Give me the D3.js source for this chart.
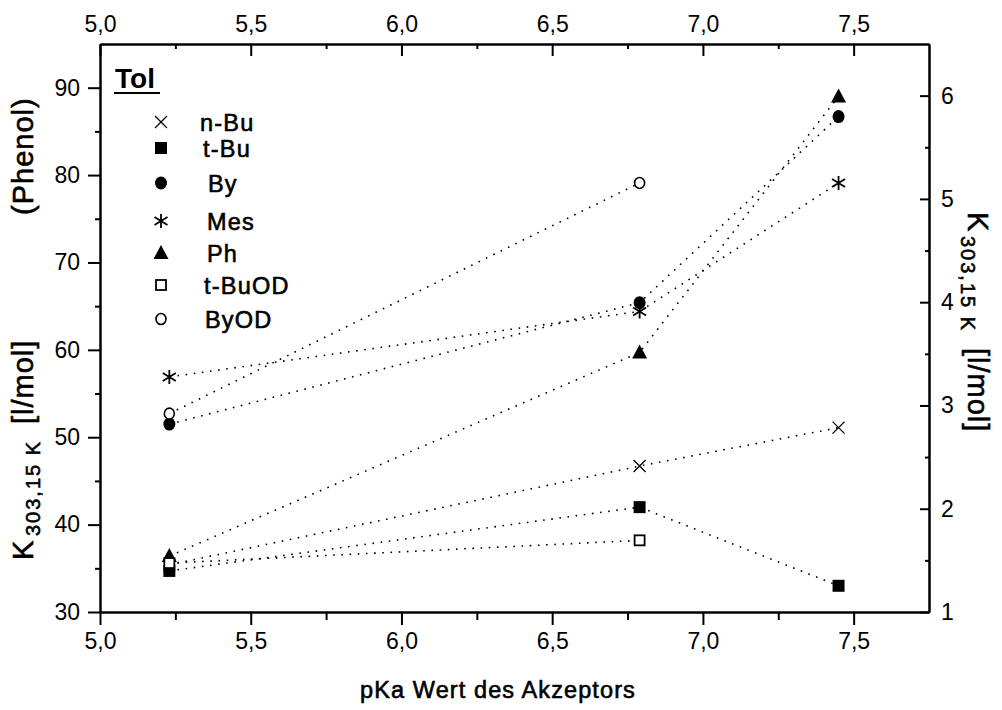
<!DOCTYPE html>
<html>
<head>
<meta charset="utf-8">
<script src="https://cdn.jsdelivr.net/npm/d3@7"></script>
<style>
  html, body { margin: 0; padding: 0; background: #fff; }
  svg { display: block; }
  .tick text { font-family: "Liberation Sans Narrow", "Liberation Sans", Arial, sans-serif; font-size: 23px; fill: #000; }
  .lbl { font-family: "Liberation Sans", Arial, sans-serif; fill: #000; }
</style>
</head>
<body>
<svg id="chart" width="1002" height="710"></svg>
<script>
// pKa values of the acceptors (x positions)
const pKa = [5.23, 6.79, 7.45];

// Association constants K(303.15 K) in l/mol for each donor in toluene
const nBu   = [35.4, 46.7, 51.1];
const tBu   = [34.7, 42.0, 33.0];
const By    = [51.5, 65.4, 86.7];
const Mes   = [56.9, 64.4, 79.1];
const Ph    = [36.4, 59.7, 89.0];
const tBuOD = [35.6, 38.2];
const ByOD  = [52.7, 79.1];

const seriesNames = ["n-Bu", "t-Bu", "By", "Mes", "Ph", "t-BuOD", "ByOD"];
const seriesValues = [nBu, tBu, By, Mes, Ph, tBuOD, ByOD];
const seriesSymbols = ["cross", "square", "circle", "star", "triangle", "squareOpen", "circleOpen"];

// Axis ticks
const xMajor = [5.0, 5.5, 6.0, 6.5, 7.0, 7.5];
const xMinor = [5.25, 5.75, 6.25, 6.75, 7.25];
const yLeftMajor = [30, 40, 50, 60, 70, 80, 90];
const yLeftMinor = [35, 45, 55, 65, 75, 85];
const yRightMajor = [1, 2, 3, 4, 5, 6];
const yRightMinor = [1.5, 2.5, 3.5, 4.5, 5.5];

const svg = d3.select("#chart");
const L = 100, R = 929, T = 44, B = 612;

const x = d3.scaleLinear().domain([5.0, 7.75]).range([L, R]);
const yL = d3.scaleLinear().domain([30, 95]).range([B, T]);
const yR = d3.scaleLinear().domain([1, 6.5]).range([B, T]);

const comma = d => d3.format(".1f")(d).replace(".", ",");

function styleAxis(g) {
  g.select(".domain").attr("stroke", "#000").attr("stroke-width", 2);
  g.selectAll(".tick line").attr("stroke", "#000").attr("stroke-width", 2);
}

// bottom
svg.append("g").attr("transform", `translate(0,${B})`)
  .call(d3.axisBottom(x).tickValues(xMajor).tickFormat(comma).tickSize(13).tickPadding(8).tickSizeOuter(0))
  .call(styleAxis);
svg.append("g").attr("transform", `translate(0,${B})`)
  .call(d3.axisBottom(x).tickValues(xMinor).tickFormat("").tickSize(8).tickSizeOuter(0))
  .call(styleAxis);

// top (ticks point inward)
svg.append("g").attr("transform", `translate(0,${T})`)
  .call(d3.axisTop(x).tickValues(xMajor).tickFormat(comma).tickSize(-12).tickPadding(12).tickSizeOuter(0))
  .call(styleAxis);
svg.append("g").attr("transform", `translate(0,${T})`)
  .call(d3.axisTop(x).tickValues(xMinor).tickFormat("").tickSize(-5).tickSizeOuter(0))
  .call(styleAxis);

// left
svg.append("g").attr("transform", `translate(${L},0)`)
  .call(d3.axisLeft(yL).tickValues(yLeftMajor).tickSize(12).tickPadding(8).tickSizeOuter(0))
  .call(styleAxis);
svg.append("g").attr("transform", `translate(${L},0)`)
  .call(d3.axisLeft(yL).tickValues(yLeftMinor).tickFormat("").tickSize(5).tickSizeOuter(0))
  .call(styleAxis);

// right (ticks point inward)
svg.append("g").attr("transform", `translate(${R},0)`)
  .call(d3.axisRight(yR).tickValues(yRightMajor).tickFormat(d3.format("d")).tickSize(-9).tickPadding(12).tickSizeOuter(0))
  .call(styleAxis);
svg.append("g").attr("transform", `translate(${R},0)`)
  .call(d3.axisRight(yR).tickValues(yRightMinor).tickFormat("").tickSize(-4).tickSizeOuter(0))
  .call(styleAxis);

// Dotted connecting lines
const line = d3.line().x(d => x(d[0])).y(d => yL(d[1]));
seriesValues.forEach(vals => {
  const pts = vals.map((v, i) => [pKa[i], v]);
  svg.append("path")
    .attr("d", line(pts))
    .attr("fill", "none")
    .attr("stroke", "#000")
    .attr("stroke-width", 1.6)
    .attr("stroke-dasharray", "1.6 6.6");
});

// Marker drawing
function drawSymbol(g, type, cx, cy) {
  const s = g.append("g").attr("transform", `translate(${cx},${cy})`);
  switch (type) {
    case "cross":
      s.append("path").attr("d", "M-6,-6L6,6M-6,6L6,-6").attr("stroke", "#000").attr("stroke-width", 1.3).attr("fill", "none");
      break;
    case "square":
      s.append("rect").attr("x", -6).attr("y", -6).attr("width", 12).attr("height", 12).attr("fill", "#000");
      break;
    case "circle":
      s.append("ellipse").attr("rx", 6).attr("ry", 6.5).attr("fill", "#000");
      break;
    case "star":
      s.append("path").attr("d", "M0,-7L0,7M-6.5,-4L6.5,4M-6.5,4L6.5,-4").attr("stroke", "#000").attr("stroke-width", 1.8).attr("fill", "none");
      break;
    case "triangle":
      s.append("path").attr("d", "M0,-8L7.5,6L-7.5,6Z").attr("fill", "#000");
      break;
    case "squareOpen":
      s.append("rect").attr("x", -5).attr("y", -5).attr("width", 10).attr("height", 10).attr("fill", "#fff").attr("stroke", "#000").attr("stroke-width", 1.8);
      break;
    case "circleOpen":
      s.append("ellipse").attr("rx", 5).attr("ry", 5.5).attr("fill", "#fff").attr("stroke", "#000").attr("stroke-width", 1.6);
      break;
  }
}

const marks = svg.append("g");
seriesValues.forEach((vals, si) => {
  vals.forEach((v, i) => drawSymbol(marks, seriesSymbols[si], x(pKa[i]), yL(v)));
});

// Legend
const leg = svg.append("g");
leg.append("text").attr("class", "lbl").attr("x", 115).attr("y", 88)
  .attr("font-size", 28).attr("font-weight", "bold").text("Tol");
leg.append("line").attr("x1", 114).attr("x2", 160).attr("y1", 93).attr("y2", 93)
  .attr("stroke", "#000").attr("stroke-width", 2);
const legY = [122, 148, 183, 221, 253, 285, 319];
const legX = [200, 203, 208, 207, 207, 204, 205];
seriesNames.forEach((name, i) => {
  drawSymbol(leg, seriesSymbols[i], 161, legY[i]);
  leg.append("text").attr("class", "lbl").attr("x", legX[i]).attr("y", legY[i] + 8.5)
    .attr("font-size", 23.5).attr("letter-spacing", 1.2)
    .attr("stroke", "#000").attr("stroke-width", 0.6)
    .text(name);
});

// Axis titles
svg.append("text").attr("class", "lbl")
  .attr("x", 498).attr("y", 698).attr("text-anchor", "middle")
  .attr("font-size", 23.5).attr("letter-spacing", 1.1)
  .attr("stroke", "#000").attr("stroke-width", 0.6)
  .text("pKa Wert des Akzeptors");

// K with subscript temperature, then unit; positions along the rotated baseline
function kTitle(sel, parts) {
  sel.append("tspan").attr("x", 0).text("K");
  sel.append("tspan").attr("x", 24).attr("dy", 7).attr("font-size", 20).attr("letter-spacing", 2).text("303,15 K");
  sel.append("tspan").attr("x", 136).attr("dy", -7).text("[l/mol]");
  parts.forEach(p => sel.append("tspan").attr("x", p.at).text(p.text));
}

const leftTitle = svg.append("text").attr("class", "lbl")
  .attr("transform", "translate(33,560) rotate(-90)")
  .attr("font-size", 29).attr("letter-spacing", 1)
  .attr("stroke", "#000").attr("stroke-width", 0.6);
kTitle(leftTitle, [{ at: 345, text: "(Phenol)" }]);

const rightTitle = svg.append("text").attr("class", "lbl")
  .attr("transform", "translate(968,212) rotate(90)")
  .attr("font-size", 29).attr("letter-spacing", 1)
  .attr("stroke", "#000").attr("stroke-width", 0.6);
kTitle(rightTitle, []);
</script>
</body>
</html>
